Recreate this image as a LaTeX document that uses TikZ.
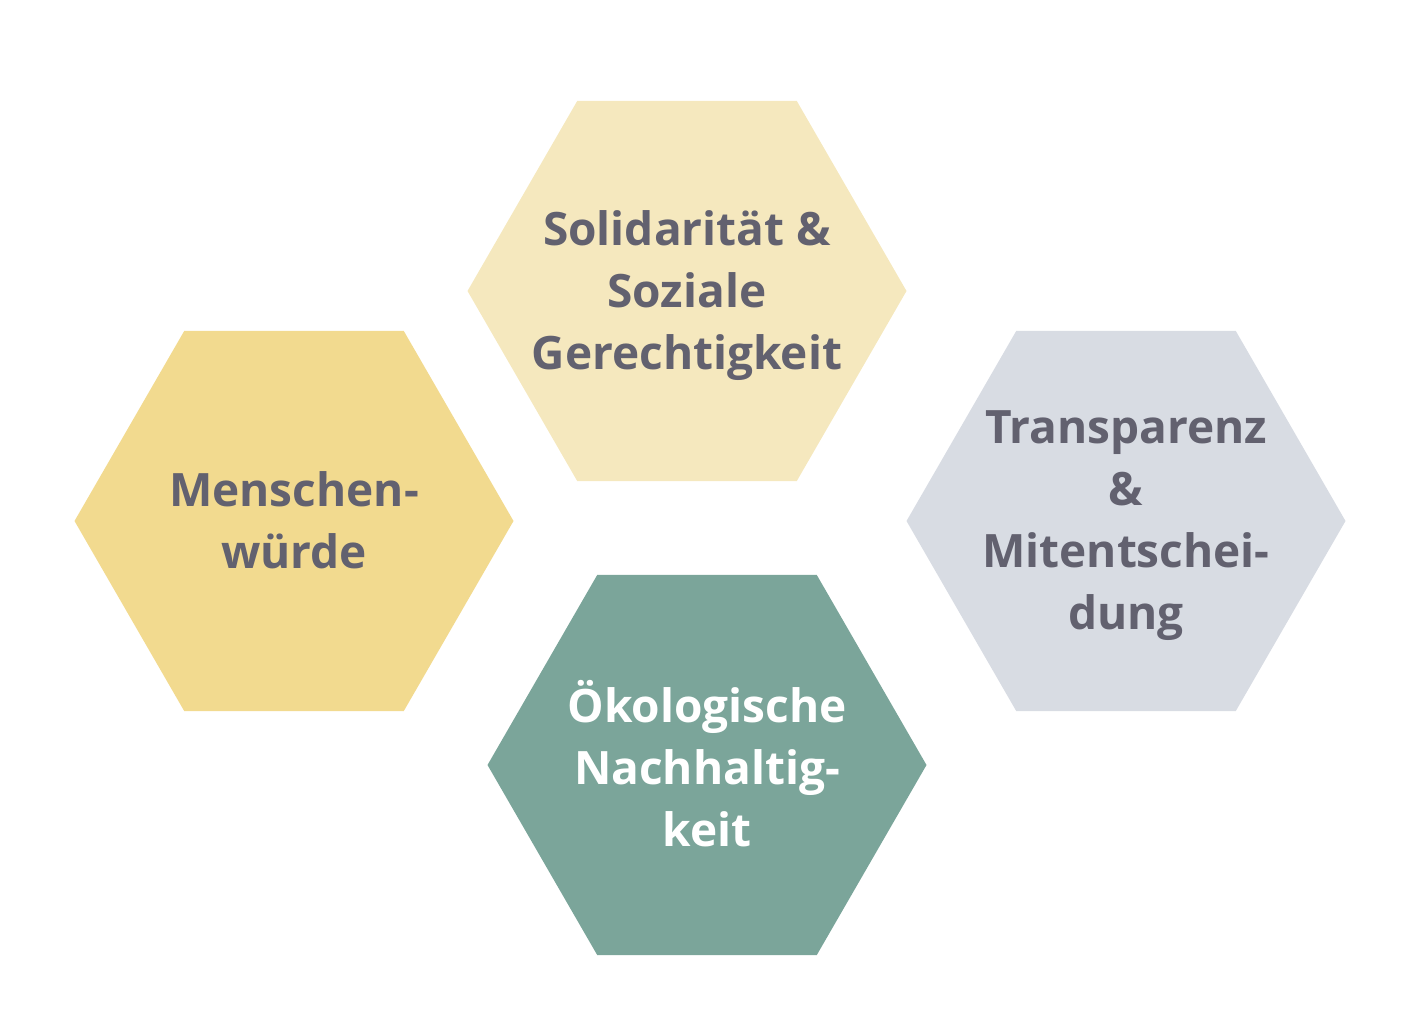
\documentclass[tikz,border=0pt]{standalone}
\usepackage{fontspec}
\setmainfont{Open Sans}
\usetikzlibrary{shapes.geometric}
\definecolor{textgray}{HTML}{62616F}
\definecolor{hexyellow}{HTML}{F2DA8F}
\definecolor{hexcream}{HTML}{F5E8BE}
\definecolor{hexgray}{HTML}{D8DCE3}
\definecolor{hexgreen}{HTML}{7BA59A}
\begin{document}
\begin{tikzpicture}[x=0.5pt,y=-0.5pt]
		\tikzset{hexa/.style = {shape=regular polygon, regular polygon sides=6, minimum size=219.5pt, inner sep=0pt, outer sep=0pt, draw=none},
			word/.style = {align=center, text=textgray, font=\fontsize{23}{31}\selectfont\bfseries, yshift=-4pt,
				execute at begin node=\strut, execute at end node=\strut}}

		\useasboundingbox (0,0) rectangle (1428,1032);

		\node[hexa, fill=hexcream] (H_1) at (687,291) {};
		\node[hexa, fill=hexyellow] (H_2) at (294,521) {};
		\node[hexa, fill=hexgray] (H_3) at (1126,521) {};
		\node[hexa, fill=hexgreen] (H_4) at (707,765) {};

		\node[word] (T_1) at (H_1.center) {Solidarität \&\\Soziale\\Gerechtigkeit};
		\node[word] (T_2) at (H_2.center) {Menschen-\\würde};
		\node[word] (T_3) at (H_3.center) {Transparenz\\\&\\Mitentschei-\\dung};
		\node[word, text=white] (T_4) at (H_4.center) {Ökologische\\Nachhaltig-\\keit};

	\end{tikzpicture}
\end{document}
